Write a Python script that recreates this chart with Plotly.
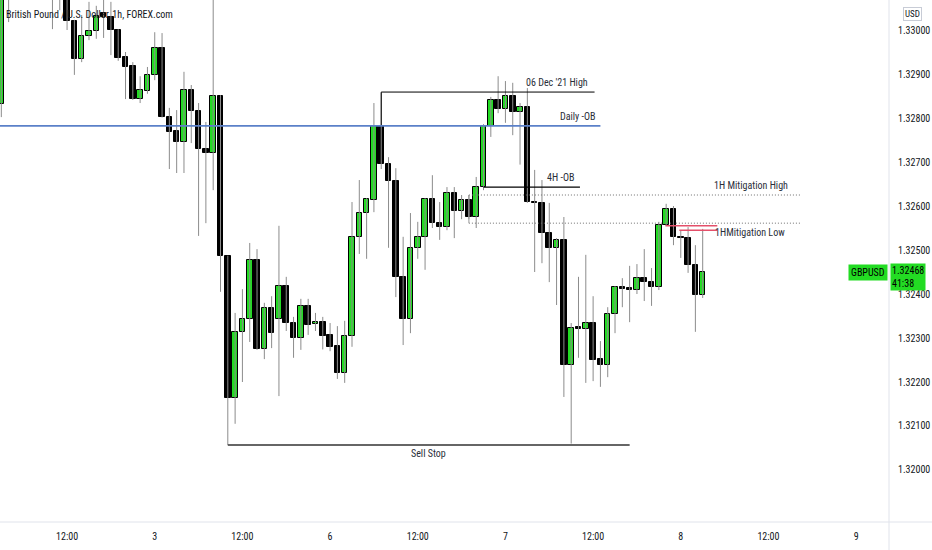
import plotly.graph_objects as go

# ---- data (1h bars; bar index 0 = 2 Dec 12:00) ----
bar_index = list(range(-9, 88))

opens = [
    1.32832, 1.33120, 1.33085, 1.33150, 1.33130, 1.33100, 1.33122, 1.33095, 1.33078,
    1.33092, 1.33020, 1.32934, 1.32986, 1.32998, 1.33039, 1.33030, 1.33000, 1.32939, 1.32918,
    1.32843, 1.32861, 1.32898, 1.32959, 1.32802, 1.32770, 1.32745, 1.32864, 1.32816, 1.32730,
    1.32720, 1.32850, 1.32486, 1.32164, 1.32314, 1.32343, 1.32477, 1.32275, 1.32368, 1.32343,
    1.32418, 1.32334, 1.32300, 1.32373, 1.32332, 1.32336, 1.32307, 1.32282, 1.32220, 1.32305,
    1.32530, 1.32584, 1.32614, 1.32782, 1.32695, 1.32657, 1.32439, 1.32343, 1.32505, 1.32530,
    1.32616, 1.32561, 1.32552, 1.32630, 1.32589, 1.32614, 1.32575, 1.32643, 1.32782, 1.32841,
    1.32820, 1.32850, 1.32814, 1.32825, 1.32609, 1.32607, 1.32539, 1.32505, 1.32523, 1.32239,
    1.32325, 1.32320, 1.32334, 1.32252, 1.32239, 1.32355, 1.32416, 1.32414, 1.32409, 1.32436,
    1.32427, 1.32416, 1.32557, 1.32593, 1.32530, 1.32527, 1.32466, 1.32398,
]
highs = [
    1.33136, 1.33160, 1.33170, 1.33190, 1.33160, 1.33140, 1.33150, 1.33128, 1.33118,
    1.33118, 1.33023, 1.33034, 1.33064, 1.33055, 1.33080, 1.33064, 1.33002, 1.32950, 1.32927,
    1.32895, 1.32916, 1.32995, 1.32993, 1.32823, 1.32818, 1.32905, 1.32875, 1.32834, 1.32791,
    1.33090, 1.32852, 1.32487, 1.32357, 1.32411, 1.32516, 1.32502, 1.32380, 1.32395, 1.32555,
    1.32439, 1.32348, 1.32389, 1.32389, 1.32357, 1.32348, 1.32334, 1.32327, 1.32339, 1.32609,
    1.32659, 1.32618, 1.32834, 1.32857, 1.32711, 1.32686, 1.32530, 1.32584, 1.32564, 1.32618,
    1.32670, 1.32609, 1.32643, 1.32643, 1.32625, 1.32625, 1.32666, 1.32786, 1.32848, 1.32895,
    1.32884, 1.32880, 1.32834, 1.32868, 1.32682, 1.32659, 1.32607, 1.32527, 1.32575, 1.32334,
    1.32439, 1.32489, 1.32395, 1.32293, 1.32370, 1.32418, 1.32436, 1.32464, 1.32468, 1.32502,
    1.32459, 1.32564, 1.32605, 1.32600, 1.32545, 1.32552, 1.32511, 1.32548,
]
lows = [
    1.32802, 1.33018, 1.33078, 1.33110, 1.33082, 1.33075, 1.33088, 1.33002, 1.33045,
    1.33000, 1.32898, 1.32927, 1.32977, 1.32980, 1.32982, 1.32943, 1.32930, 1.32843, 1.32841,
    1.32834, 1.32855, 1.32886, 1.32801, 1.32684, 1.32675, 1.32675, 1.32743, 1.32532, 1.32561,
    1.32636, 1.32405, 1.32057, 1.32105, 1.32200, 1.32291, 1.32273, 1.32252, 1.32277, 1.32168,
    1.32316, 1.32255, 1.32273, 1.32307, 1.32316, 1.32274, 1.32270, 1.32207, 1.32198, 1.32280,
    1.32491, 1.32480, 1.32586, 1.32684, 1.32505, 1.32393, 1.32284, 1.32311, 1.32480, 1.32455,
    1.32550, 1.32523, 1.32545, 1.32527, 1.32570, 1.32570, 1.32550, 1.32636, 1.32757, 1.32811,
    1.32789, 1.32761, 1.32694, 1.32607, 1.32450, 1.32470, 1.32427, 1.32375, 1.32166, 1.32060,
    1.32255, 1.32198, 1.32202, 1.32189, 1.32211, 1.32311, 1.32370, 1.32336, 1.32400, 1.32384,
    1.32373, 1.32409, 1.32555, 1.32511, 1.32482, 1.32448, 1.32314, 1.32391,
]
closes = [
    1.33114, 1.33085, 1.33150, 1.33130, 1.33100, 1.33122, 1.33095, 1.33078, 1.33092,
    1.33020, 1.32934, 1.32986, 1.32998, 1.33032, 1.33030, 1.33000, 1.32936, 1.32916, 1.32843,
    1.32864, 1.32898, 1.32959, 1.32802, 1.32768, 1.32745, 1.32864, 1.32816, 1.32730, 1.32720,
    1.32850, 1.32486, 1.32164, 1.32314, 1.32343, 1.32477, 1.32275, 1.32368, 1.32311, 1.32418,
    1.32334, 1.32300, 1.32373, 1.32330, 1.32336, 1.32305, 1.32280, 1.32220, 1.32305, 1.32530,
    1.32584, 1.32616, 1.32782, 1.32695, 1.32657, 1.32439, 1.32343, 1.32505, 1.32530, 1.32616,
    1.32561, 1.32552, 1.32630, 1.32589, 1.32614, 1.32575, 1.32643, 1.32782, 1.32841, 1.32820,
    1.32850, 1.32814, 1.32825, 1.32609, 1.32607, 1.32539, 1.32505, 1.32523, 1.32239, 1.32323,
    1.32320, 1.32334, 1.32250, 1.32239, 1.32355, 1.32416, 1.32411, 1.32409, 1.32436, 1.32427,
    1.32416, 1.32557, 1.32593, 1.32530, 1.32527, 1.32466, 1.32398, 1.32450,
]

x_tickvals = [0, 12, 24, 36, 48, 60, 72, 84, 96, 108]
x_ticktext = ["12:00", "3", "12:00", "6", "12:00", "7", "12:00", "8", "12:00", "9"]
y_tickvals = [1.32000, 1.32100, 1.32200, 1.32300, 1.32400, 1.32500,
              1.32600, 1.32700, 1.32800, 1.32900, 1.33000]
y_ticktext = ["1.32000", "1.32100", "1.32200", "1.32300", "1.32400", "1.32500",
              "1.32600", "1.32700", "1.32800", "1.32900", "1.33000"]

# drawing levels
dec6_high = 1.32859
daily_ob = 1.32782
ob_4h = 1.32643
mit_high = 1.32625
mit_low = 1.32561
pink_1 = 1.32555
pink_2 = 1.32545
sell_stop = 1.32057
price_text = "1.32468"
countdown = "41:38"

GREEN = "#23dc23"
FONT = "Liberation Sans Narrow, Arial Narrow, Roboto Condensed, sans-serif"
TXT = "#2a2e39"

# ---- traces ----
wx, wy = [], []
for i, h, l in zip(bar_index, highs, lows):
    wx += [i, i, None]
    wy += [l, h, None]

base = [min(o, c) for o, c in zip(opens, closes)]
height = [max(abs(c - o), 0.000015) for o, c in zip(opens, closes)]
colors = [GREEN if c >= o else "#000000" for o, c in zip(opens, closes)]

fig = go.Figure()
fig.add_trace(go.Scatter(x=wx, y=wy, mode="lines",
                         line=dict(color="#8c8c8c", width=1),
                         hoverinfo="skip", showlegend=False))
fig.add_trace(go.Bar(x=bar_index, y=height, base=base, width=0.76,
                     marker=dict(color=colors, line=dict(color="#000000", width=1)),
                     showlegend=False))

# ---- drawings ----
def hline(x0, x1, y, color, width=1, dash="solid"):
    fig.add_shape(type="line", xref="x", yref="y", x0=x0, x1=x1, y0=y, y1=y,
                  line=dict(color=color, width=width, dash=dash))

hline(43, 72.2, dec6_high, "#000000", 1)
fig.add_shape(type="line", xref="x", yref="y", x0=43, x1=43, y0=dec6_high, y1=daily_ob,
              line=dict(color="#000000", width=1))
hline(-12, 73, daily_ob, "#5b80c8", 1.6)
hline(57, 70.2, ob_4h, "#000000", 1.2)
hline(55, 100.4, mit_high, "#6f6f6f", 1, "1px,2px")
hline(55, 100.4, mit_low, "#6f6f6f", 1, "1px,2px")
fig.add_shape(type="line", xref="x", yref="y", x0=55, x1=55, y0=mit_low, y1=mit_high,
              line=dict(color="#9a9a9a", width=1))
hline(81.9, 89, pink_1, "#e4506a", 1.4)
hline(83.8, 89, pink_2, "#e4506a", 1.4)
hline(22, 77, sell_stop, "#333333", 1.5)

# axis separators
fig.add_shape(type="line", xref="paper", yref="paper", x0=0, x1=1.06, y0=0, y1=0,
              line=dict(color="#e0e3eb", width=1))
fig.add_shape(type="line", xref="paper", yref="paper", x0=1, x1=1, y0=-0.06, y1=1,
              line=dict(color="#e0e3eb", width=1))

def label(text, x, y, xanchor, yanchor, yshift):
    fig.add_annotation(text=text, x=x, y=y, xref="x", yref="y", showarrow=False,
                       xanchor=xanchor, yanchor=yanchor, yshift=yshift,
                       font=dict(family=FONT, size=10, color=TXT))

label("06 Dec '21 High", 71.6, dec6_high, "right", "bottom", 2)
label("Daily -OB", 72.7, daily_ob, "right", "bottom", 2)
label("4H -OB", 69.7, ob_4h, "right", "bottom", 2)
label("1H Mitigation High", 99.0, mit_high, "right", "bottom", 2)
label("1HMitigation Low", 98.6, mit_low, "right", "top", -2)
label("Sell Stop", 49.45, sell_stop, "center", "top", -1)

fig.add_annotation(text="British Pound / U.S. Dollar, 1h, FOREX.com",
                   xref="paper", yref="paper", x=0, y=1, xshift=4, yshift=-7,
                   xanchor="left", yanchor="top", showarrow=False,
                   font=dict(family=FONT, size=10, color="#131722"))

fig.add_annotation(text="USD", xref="paper", yref="paper", x=1, y=1, xshift=14, yshift=-7,
                   xanchor="left", yanchor="top", showarrow=False,
                   bordercolor="#c8ccd6", borderwidth=1, borderpad=1,
                   font=dict(family=FONT, size=9, color="#131722"))

last_close = closes[-1]
fig.add_annotation(text=price_text + "<br>" + countdown, xref="paper", yref="y",
                   x=1, y=last_close, xshift=1, yshift=9, xanchor="left", yanchor="top",
                   align="left", showarrow=False, bgcolor=GREEN, borderpad=1,
                   font=dict(family=FONT, size=10, color="#000000"))
fig.add_annotation(text="GBPUSD", xref="paper", yref="y", x=1, y=last_close,
                   xshift=-1, xanchor="right", yanchor="middle",
                   showarrow=False, bgcolor=GREEN, borderpad=2,
                   font=dict(family=FONT, size=10, color="#000000"))

fig.update_layout(
    width=932, height=550,
    margin=dict(l=0, r=43, t=0, b=28),
    paper_bgcolor="#ffffff", plot_bgcolor="#ffffff",
    barmode="overlay", bargap=0, showlegend=False,
    hovermode=False,
    xaxis=dict(range=[-9.18, 112.5], tickvals=x_tickvals, ticktext=x_ticktext,
               showgrid=False, zeroline=False, showline=False, ticks="",
               ticklabelstandoff=7,
               tickfont=dict(family=FONT, size=10, color="#131722")),
    yaxis=dict(range=[1.318818, 1.330682], side="right", tickvals=y_tickvals,
               ticktext=y_ticktext, showgrid=False, zeroline=False, showline=False,
               ticks="", ticklabelstandoff=8,
               tickfont=dict(family=FONT, size=10, color="#131722")),
)

fig.write_html("out.html",
               config={"displayModeBar": False},
               post_script="document.body.style.margin='0px';"
                           "document.body.style.overflow='hidden';")
